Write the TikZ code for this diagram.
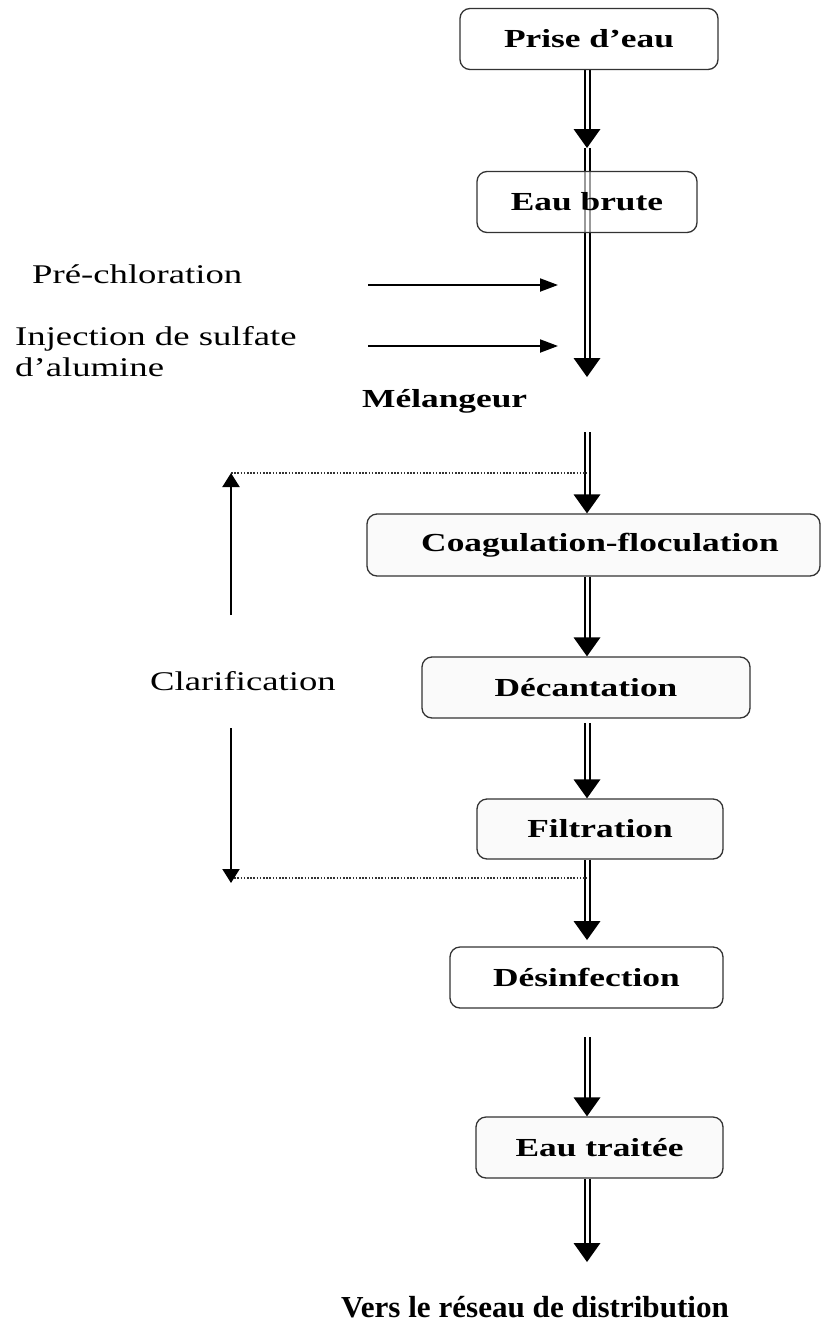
\documentclass[tikz,border=0pt]{standalone}
\usepackage{fontspec}
\setmainfont{Liberation Serif}
\usepackage{graphicx}
\usetikzlibrary{arrows.meta,backgrounds}

% wide set type used throughout the chart
\newcommand{\stagetext}[1]{\scalebox{1.36}[1]{\bfseries\fontsize{26}{30}\selectfont #1}}
\newcommand{\sidetext}[1]{\scalebox{1.36}[1]{\fontsize{27}{31}\selectfont #1}}

% main water path: double shaft ending in a filled head (all point downwards)
\newcommand{\flow}[2]{%
  \draw[flowline] #1 -- #2;
  \fill[black] #2 -- ++(-13.5,-19) -- ++(27,0) -- cycle;}

\begin{document}
\begin{tikzpicture}[x=1pt,y=-1pt,
  stage/.style={draw=black!80, line width=1.3pt, rounded corners=10pt,
    fill=black!2, inner sep=0pt, minimum height=61pt},
  label/.style={anchor=base west, inner sep=0pt},
  flowline/.style={draw=black, line width=2pt, double=white,
    double distance=3pt, shorten >=17pt},
  side/.style={line width=2pt, -{Triangle[width=13pt,length=18pt]}},
  clar/.style={line width=2pt, -{Triangle[width=17pt,length=14pt]}},
  ret/.style={draw=black!80, line width=1.6pt, dash pattern=on 1.6pt off 1.6pt}]

\useasboundingbox (0,0) rectangle (823,1322);

% treatment stages
\node[stage, minimum width=258pt, fill=white] (prise) at (589,39) {\stagetext{Prise d’eau}};
\node[stage, minimum width=220pt, fill=white, fill opacity=0.6, text opacity=1] (brute) at (587,202) {\stagetext{Eau brute}};
\node[stage, minimum width=453pt, minimum height=62pt] (coag) at (593.5,545) {\hspace*{13pt}\stagetext{Coagulation-floculation}};
\node[stage, minimum width=328pt] (decant) at (586,687.5) {\stagetext{Décantation}};
\node[stage, minimum width=246pt, minimum height=60pt] (filt) at (600,829) {\stagetext{Filtration}};
\node[stage, minimum width=273pt, fill=white] (desinf) at (586.5,977.5) {\stagetext{Désinfection}};
\node[stage, minimum width=247pt] (traitee) at (599.5,1147.5) {\stagetext{Eau traitée}};

% free labels
\node[label] (mel) at (362,407) {\stagetext{Mélangeur}};
\node[label] (prechl) at (32,283) {\sidetext{Pré-chloration}};
\node[label] (inj) at (15,345) {\sidetext{\begin{tabular}[t]{@{}l@{}}Injection de sulfate\\ d’alumine\end{tabular}}};
\node[label] (clarif) at (150,690) {\sidetext{Clarification}};
\node[label] (vers) at (341,1317) {\scalebox{1.02}[1]{\bfseries\fontsize{30.5}{34}\selectfont Vers le réseau de distribution}};

% points on the water path
\coordinate (axis) at (587,0);
\coordinate (t1) at (587,148);
\coordinate (t2) at (587,377);
\coordinate (m1) at (587,432);
\coordinate (m3) at (587,723);
\coordinate (t6) at (587,940);
\coordinate (m7) at (587,1037);
\coordinate (t8) at (587,1262);
\coordinate (d1) at (587,473);
\coordinate (d2) at (587,878);

% reagent inlets
\coordinate (pa) at (368,285);
\coordinate (pb) at (558,285);
\coordinate (ia) at (368,346);
\coordinate (ib) at (558,346);

% clarification bracket
\coordinate (cu0) at (231,615);
\coordinate (cu1) at (231,473);
\coordinate (cd0) at (231,728);
\coordinate (cd1) at (231,883);
\coordinate (cdot) at (231,878);

\begin{pgfonlayer}{background}
  \flow{(t1)}{(t2)}
  \flow{(prise.south -| axis)}{(t1)}
  \flow{(m1)}{(coag.north -| axis)}
  \flow{(coag.south -| axis)}{(decant.north -| axis)}
  \flow{(m3)}{(filt.north -| axis)}
  \flow{(filt.south -| axis)}{(t6)}
  \flow{(m7)}{(traitee.north -| axis)}
  \flow{(traitee.south -| axis)}{(t8)}

  \draw[side] (pa) -- (pb);
  \draw[side] (ia) -- (ib);

  \draw[ret] (cu1) -- (d1);
  \draw[ret] (cdot) -- (d2);
  \draw[clar] (cu0) -- (cu1);
  \draw[clar] (cd0) -- (cd1);
\end{pgfonlayer}
\end{tikzpicture}
\end{document}
